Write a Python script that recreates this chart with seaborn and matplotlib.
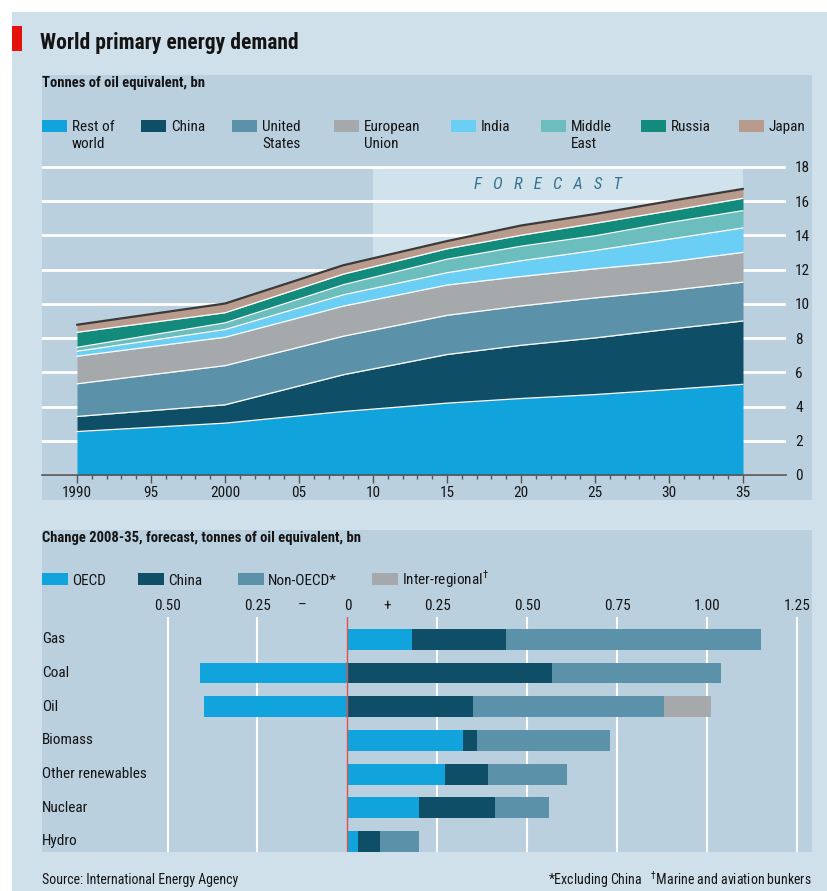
import matplotlib
matplotlib.use("Agg")
import matplotlib.pyplot as plt
from matplotlib import font_manager
from matplotlib.patches import Rectangle
from matplotlib.ticker import FixedLocator
import matplotlib.transforms as mtransforms
import numpy as np
import seaborn as sns

# === Datos: demanda mundial de energia primaria (bn tep) ===
years = [1990, 2000, 2008, 2015, 2020, 2025, 2030, 2035]
rest_of_world = [2.54, 3.03, 3.71, 4.20, 4.47, 4.70, 4.99, 5.30]
china = [0.88, 1.07, 2.15, 2.84, 3.11, 3.31, 3.53, 3.70]
united_states = [1.91, 2.29, 2.25, 2.29, 2.30, 2.34, 2.26, 2.27]
european_union = [1.61, 1.66, 1.76, 1.77, 1.72, 1.70, 1.67, 1.74]
india = [0.29, 0.45, 0.66, 0.72, 0.92, 1.07, 1.33, 1.43]
middle_east = [0.23, 0.39, 0.59, 0.79, 0.85, 0.86, 0.97, 1.01]
russia = [0.88, 0.59, 0.62, 0.61, 0.64, 0.73, 0.68, 0.72]
japan = [0.44, 0.54, 0.52, 0.45, 0.57, 0.54, 0.57, 0.55]
region_labels = ["Rest of\nworld", "China", "United\nStates", "European\nUnion",
                 "India", "Middle\nEast", "Russia", "Japan"]
year_ticks = [1990, 1995, 2000, 2005, 2010, 2015, 2020, 2025, 2030, 2035]
year_labels = ["1990", "95", "2000", "05", "10", "15", "20", "25", "30", "35"]

# === Datos: cambio 2008-35 por combustible ===
fuels = ["Gas", "Coal", "Oil", "Biomass", "Other renewables", "Nuclear", "Hydro"]
oecd = [0.18, -0.41, -0.40, 0.32, 0.27, 0.20, 0.03]
china_change = [0.26, 0.57, 0.35, 0.04, 0.12, 0.21, 0.06]
non_oecd = [0.71, 0.47, 0.53, 0.37, 0.22, 0.15, 0.11]
inter_regional = [0.0, 0.0, 0.13, 0.0, 0.0, 0.0, 0.0]
segment_labels = ["OECD", "China", "Non-OECD*", r"Inter-regional$^{\dagger}$"]
change_ticks = [-0.5, -0.25, -0.125, 0, 0.11, 0.25, 0.5, 0.75, 1.0, 1.25]
change_labels = ["0.50", "0.25", "\u2013", "0", "+", "0.25", "0.50", "0.75", "1.00", "1.25"]

# === Colores ===
BG = "#cfe0eb"
PANEL = "#bad0de"
FORECAST = "#d0e2ec"
RED = "#e3120b"
TXT = "#141414"
region_colors = ["#10a3dc", "#0e4e67", "#5b91a9", "#a5a9ac",
                 "#6bcef5", "#6cbdbd", "#128a7c", "#b89b8d"]
segment_colors = ["#10a3dc", "#0e4e67", "#5b91a9", "#a5a9ac"]

sns.set_theme(style="white")
available = {f.name for f in font_manager.fontManager.ttflist}
family = "DejaVu Sans"
for cand in ["Liberation Sans Narrow", "Roboto Condensed", "Open Sans Condensed", "Liberation Sans"]:
    if cand in available:
        family = cand
        break
plt.rcParams["font.family"] = [family, "DejaVu Sans"]
plt.rcParams["text.color"] = TXT
plt.rcParams["mathtext.fontset"] = "custom"
plt.rcParams["mathtext.rm"] = family

W, H = 828, 891
fig = plt.figure(figsize=(W / 100, H / 100), dpi=100, facecolor="white")


def fx(px):
    return px / W


def fy(py):
    return 1 - py / H


def frect(x0, y0, x1, y1, color):
    fig.patches.append(Rectangle((fx(x0), fy(y1)), fx(x1) - fx(x0), fy(y0) - fy(y1),
                                 transform=fig.transFigure, facecolor=color,
                                 edgecolor="none", zorder=-10))


frect(12, 12, W, H, BG)
frect(12, 26, 22, 51, RED)
frect(42, 75, 812, 500, PANEL)
frect(42, 530, 812, 852, PANEL)

fig.text(fx(40), fy(43), "World primary energy demand", fontsize=15.5,
         fontweight="bold", va="center", ha="left")
fig.text(fx(42), fy(83), "Tonnes of oil equivalent, bn", fontsize=10.5,
         fontweight="bold", va="center", ha="left")

# leyenda superior
top_legend_x = [42, 141, 232, 334, 451, 541, 641, 739]
for x, lab, col in zip(top_legend_x, region_labels, region_colors):
    frect(x, 120, x + 25, 132, col)
    fig.text(fx(x + 30), fy(120), lab, fontsize=11, va="top", ha="left",
             linespacing=1.25)

# === Grafico de areas ===
px_per_unit = (475 - 167) / 18
ymax = 18.15
top_px = 475 - ymax * px_per_unit
ax1 = fig.add_axes([fx(42), fy(475), fx(786) - fx(42), (475 - top_px) / H])
ax1.set_facecolor("none")
ax1.set_xlim(1990 - 35 / 14.8, 2035 + 43 / 14.8)
ax1.set_ylim(0, ymax)
ax1.set_axisbelow(True)
ax1.axvspan(2010, 2035, ymin=0, ymax=18 / ymax, color=FORECAST, lw=0, zorder=0)

series = [rest_of_world, china, united_states, european_union, india, middle_east, russia, japan]
ax1.stackplot(years, *series, colors=region_colors, linewidth=0, zorder=2)
cums = np.cumsum(np.array(series), axis=0)
for cum in cums[:-1]:
    ax1.plot(years, cum, color="white", lw=0.9, zorder=3)
sns.lineplot(x=years, y=cums[-1], color="#3a3a3a", lw=1.6, ax=ax1, zorder=4)

ax1.set_yticks(range(0, 19, 2))
ax1.yaxis.grid(True, color="white", lw=2)
ax1.xaxis.grid(False)
ax1.yaxis.tick_right()
ax1.tick_params(axis="y", length=0, pad=6.5, labelsize=11, labelcolor=TXT)
ax1.set_xticks(year_ticks)
ax1.set_xticklabels(year_labels)
ax1.xaxis.set_minor_locator(FixedLocator(range(1990, 2036)))
ax1.tick_params(axis="x", which="major", direction="out", length=5.5, width=1,
                color="#555555", pad=2.5, labelsize=11, labelcolor=TXT, bottom=True)
ax1.tick_params(axis="x", which="minor", direction="out", length=3, width=1,
                color="#555555", bottom=True)
for side in ["top", "left", "right"]:
    ax1.spines[side].set_visible(False)
ax1.spines["bottom"].set_color("#555555")
ax1.spines["bottom"].set_linewidth(1.2)
ax1.set_xlabel("")
ax1.set_ylabel("")
ax1.text(2021.8, 17.0, "F   O   R   E   C   A   S   T", fontsize=12, fontstyle="italic",
         color="#34728e", ha="center", va="center")

# === Grafico de barras ===
fig.text(fx(42), fy(538), "Change 2008-35, forecast, tonnes of oil equivalent, bn",
         fontsize=10.5, fontweight="bold", va="center", ha="left")
bottom_legend_x = [42, 138, 238, 372]
for x, lab, col in zip(bottom_legend_x, segment_labels, segment_colors):
    frect(x, 573, x + 26, 585, col)
    fig.text(fx(x + 30), fy(585), lab, fontsize=11, va="baseline", ha="left")

zero_px, unit_px = 347.4, 359.7
ax2 = fig.add_axes([fx(42), fy(852), fx(812) - fx(42), fy(617) - fy(852)])
ax2.set_facecolor("none")

segments = np.array([oecd, china_change, non_oecd, inter_regional])
pos = np.clip(segments, 0, None)
cum_pos = np.cumsum(pos, axis=0)
for k in reversed(range(len(segments))):
    widths = np.where(segments[k] > 0, cum_pos[k], 0)
    sns.barplot(x=widths, y=fuels, orient="h", color=segment_colors[k], saturation=1,
                width=0.62, linewidth=0, errorbar=None, ax=ax2, zorder=2)
neg = np.clip(segments[0], None, 0)
sns.barplot(x=neg, y=fuels, orient="h", color=segment_colors[0], saturation=1,
            width=0.62, linewidth=0, errorbar=None, ax=ax2, zorder=2)

ax2.set_xlim((42 - zero_px) / unit_px, (812 - zero_px) / unit_px)
ax2.set_ylim(6 + 10.5 / 33.7, -22.3 / 33.7)
for t in change_ticks:
    if t in (-0.5, -0.25, 0.25, 0.5, 0.75, 1.0, 1.25):
        ax2.axvline(t, color="white", lw=1.5, zorder=1)
ax2.axvline(0, color="#d9534f", lw=1, zorder=3)
ax2.xaxis.tick_top()
ax2.set_xticks(change_ticks)
ax2.set_xticklabels(change_labels)
ax2.tick_params(axis="x", length=0, pad=3, labelsize=11, labelcolor=TXT)
ax2.set_yticks([])
ax2.set_xlabel("")
ax2.set_ylabel("")
ax2.grid(False)
for s in ax2.spines.values():
    s.set_visible(False)
trans = mtransforms.blended_transform_factory(ax2.transAxes, ax2.transData)
for i, f in enumerate(fuels):
    ax2.text(0.0, i, f, transform=trans, fontsize=11, ha="left", va="center")

# === Pie ===
fig.text(fx(42), fy(880), "Source: International Energy Agency", fontsize=10,
         va="center", ha="left")
fig.text(fx(812), fy(880), r"*Excluding China   $^{\dagger}$Marine and aviation bunkers",
         fontsize=10, va="center", ha="right")

fig.savefig("out.png", dpi=100, facecolor=fig.get_facecolor())
